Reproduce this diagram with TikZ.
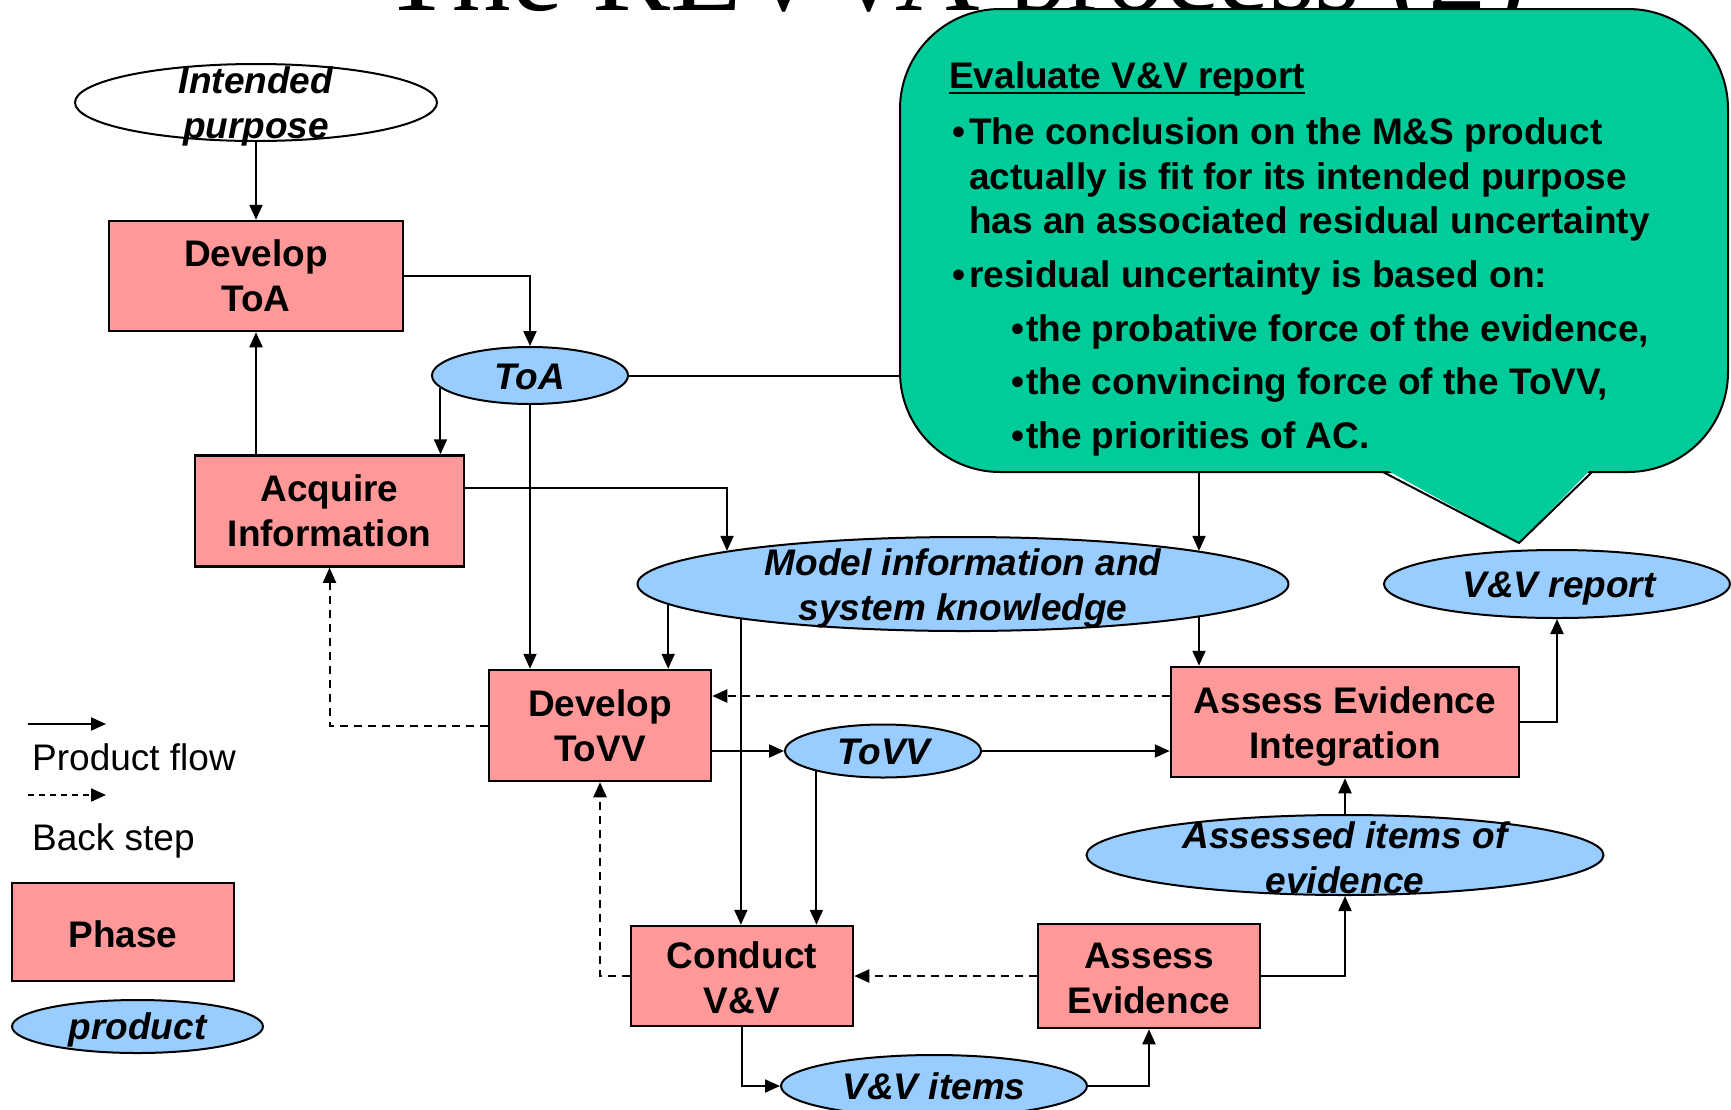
\documentclass[tikz,border=0pt]{standalone}
\usepackage{fontspec}
\setmainfont{Liberation Sans}
\newfontfamily\titlefont{Liberation Serif}
\usetikzlibrary{arrows.meta,shapes.geometric,calc}
\definecolor{phasepink}{HTML}{FF9999}
\definecolor{prodblue}{HTML}{99CCFF}
\definecolor{notegreen}{HTML}{00CC99}

\tikzset{
  bigtext/.style={font=\fontsize{37}{45}\selectfont},
  phasebox/.style={draw, line width=2.5pt, fill=phasepink, inner sep=0pt,
    align=center, font=\fontsize{37}{45}\selectfont\bfseries},
  phasetext/.style={inner sep=0pt, align=center,
    font=\fontsize{37}{45}\selectfont\bfseries},
  prodshape/.style={draw, line width=2pt, fill=prodblue, ellipse, inner sep=0pt},
  prodtext/.style={inner sep=0pt, align=center,
    font=\fontsize{37}{45}\selectfont\bfseries\itshape},
  flow/.style={line width=2pt, -{Triangle[length=15pt,width=13pt]}},
  back/.style={flow, dash pattern=on 8pt off 6pt},
  notetext/.style={anchor=base west, inner sep=0pt,
    font=\fontsize{37}{45}\selectfont\bfseries},
}

\begin{document}
\begin{tikzpicture}[x=1pt,y=-1pt]
\useasboundingbox (0,0) rectangle (1731,1109);
\fill[white] (0,0) rectangle (1731,1109);
\clip (0,0) rectangle (1731,1109);

% slide title, running off the top edge
\node[anchor=base west, inner sep=0pt, font=\titlefont\fontsize{117}{117}\selectfont]
  (title) at (381,10.7) {The REVVA process (2)};

% ---------- phases ----------
\node[phasebox, minimum width=294pt, minimum height=110pt] (dtoa)  at (256,276)   {Develop\\ToA};
\node[phasebox, minimum width=269pt, minimum height=111pt] (acq)   at (329.5,511) {Acquire\\Information};
\node[phasebox, minimum width=222pt, minimum height=111pt] (dtovv) at (600,725.5) {Develop\\ToVV};
\node[phasebox, minimum width=348pt, minimum height=110pt] (aei)   at (1345,722)  {};
\node[phasetext] (aei-t) at (1345,727) {Assess Evidence\\Integration};
\node[phasebox, minimum width=222pt, minimum height=104pt] (ae)    at (1149,976)  {};
\node[phasetext] (ae-t) at (1149,978) {Assess\\Evidence};
\node[phasebox, minimum width=222pt, minimum height=100pt] (cvv)   at (742,976)   {};
\node[phasetext] (cvv-t) at (742,978) {Conduct\\V\&V};

% ---------- products ----------
\node[prodshape, fill=white, minimum width=362pt, minimum height=77pt] (ip) at (256,102.5) {};
\node[prodtext] (ip-t) at (256,106) {Intended\\purpose};
\node[prodshape, minimum width=196pt, minimum height=57pt] (toa) at (530,375.5) {};
\node[prodtext] (toa-t) at (530,377) {ToA};
\node[prodshape, minimum width=651pt, minimum height=94pt] (model) at (963,584) {};
\node[prodtext] (model-t) at (963,588) {Model information and\\system knowledge};
\node[prodshape, minimum width=196pt, minimum height=53pt] (tovv) at (883,751) {};
\node[prodtext] (tovv-t) at (884,752) {ToVV};
\node[prodshape, minimum width=346pt, minimum height=68pt] (vvr) at (1557,584) {};
\node[prodtext] (vvr-t) at (1559,589) {V\&V report};
\node[prodshape, minimum width=517pt, minimum height=80pt] (assessed) at (1345,855) {};
\node[prodtext] (assessed-t) at (1345,858) {Assessed items of\\evidence};
\node[prodshape, minimum width=306pt, minimum height=62pt] (vvi) at (934,1086) {};
\node[prodtext] (vvi-t) at (vvi) {V\&V items};

% ---------- product flow ----------
\coordinate (yacq) at (0,488);
\coordinate (yback) at (0,696);
\draw[flow] (ip.south) -- (dtoa.north);
\draw[flow] (dtoa.east) -| (toa.north);
\draw[flow] (acq.north -| dtoa.south) -- (dtoa.south);
\draw[flow] (toa.188) -- (toa.188 |- acq.north);
\draw[flow] (toa.south) -- (toa.south |- dtovv.north);
\draw[flow] (toa.east) -- (model.8 |- toa.east) -- (model.8);
\draw[flow] (acq.east |- yacq) -| (model.172);
\draw[flow] (model.184) -- (model.184 |- dtovv.north);
\draw[flow] (model.189) -- (model.189 |- cvv.north);
\draw[flow] (model.352) -- (model.352 |- aei.north);
\draw[flow] (dtovv.east |- tovv.west) -- (tovv.west);
\draw[flow] (tovv.east) -- (aei.west |- tovv.east);
\draw[flow] (tovv.197) -- (tovv.197 |- cvv.north);
\draw[flow] (aei.east) -| (vvr.south);
\draw[flow] (assessed.north) -- (aei.south);
\draw[flow] (ae.east) -| (assessed.south);
\draw[flow] (cvv.south) |- (vvi.west);
\draw[flow] (vvi.east) -| (ae.south);

% ---------- back steps ----------
\draw[back] (aei.west |- yback) -- (dtovv.east |- yback);
\draw[back] (dtovv.west) -| (acq.south);
\draw[back] (cvv.west) -| (dtovv.south);
\draw[back] (ae.west) -- (cvv.east);

% ---------- legend ----------
\coordinate (pf1) at (28,724);
\coordinate (pf2) at (106,724);
\coordinate (bs1) at (28,795);
\coordinate (bs2) at (106,795);
\draw[flow] (pf1) -- (pf2);
\draw[back, dash pattern=on 6pt off 5pt] (bs1) -- (bs2);
\node[anchor=base west, inner sep=0pt, bigtext] (lg-pf) at (32,770) {Product flow};
\node[anchor=base west, inner sep=0pt, bigtext] (lg-bs) at (32,850) {Back step};
\node[phasebox, minimum width=222pt, minimum height=98pt] (lg-phase) at (123,932) {};
\node[phasetext] (lg-phase-t) at (123,934) {Phase};
\node[prodshape, minimum width=251pt, minimum height=53pt] (lg-prod) at (137.5,1026.5) {};
\node[prodtext] (lg-prod-t) at (137.5,1030) {product};

% ---------- callout: rounded body plus a pointer towards the V&V report ----------
\draw[fill=notegreen, line width=2pt, rounded corners=100pt] (900,9) rectangle (1728,472);
\fill[notegreen] (1383,468) -- (1592,468) -- (1519,543) -- cycle;
\draw[line width=2pt, line join=miter] (1383,472) -- (1519,543) -- (1592,472);
\node[notetext] (cl-h) at (949,88) {Evaluate V\&V report};
\draw[line width=2.6pt] ([yshift=-5pt]cl-h.base west) -- ([yshift=-5pt]cl-h.base east);
\node[notetext] (cl-b1) at (952,144) {\textbullet};
\node[notetext] (cl-1) at (969,144) {The conclusion on the M\&S product};
\node[notetext] (cl-2) at (969,189) {actually is fit for its intended purpose};
\node[notetext] (cl-3) at (969,233) {has an associated residual uncertainty};
\node[notetext] (cl-b2) at (952,287) {\textbullet};
\node[notetext] (cl-4) at (969,287) {residual uncertainty is based on:};
\node[notetext] (cl-b3) at (1011,341) {\textbullet};
\node[notetext] (cl-5) at (1026,341) {the probative force of the evidence,};
\node[notetext] (cl-b4) at (1011,394) {\textbullet};
\node[notetext] (cl-6) at (1026,394) {the convincing force of the ToVV,};
\node[notetext] (cl-b5) at (1011,448) {\textbullet};
\node[notetext] (cl-7) at (1026,448) {the priorities of AC.};
\end{tikzpicture}
\end{document}
